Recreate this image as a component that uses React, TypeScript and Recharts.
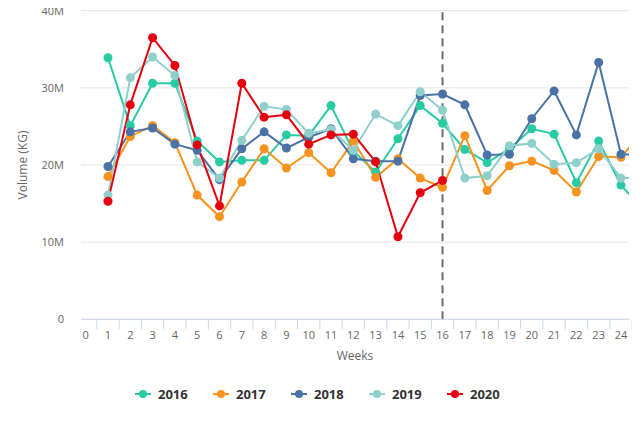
import React from "react";
import {
  LineChart,
  Line,
  XAxis,
  YAxis,
  CartesianGrid,
  ReferenceLine,
  Legend,
} from "recharts";

// weeks shown on the axis; week 25 is only partly visible at the right edge
const weeks = [0, 1, 2, 3, 4, 5, 6, 7, 8, 9, 10, 11, 12, 13, 14, 15, 16, 17, 18, 19, 20, 21, 22, 23, 24];
const dataWeeks = [1, 2, 3, 4, 5, 6, 7, 8, 9, 10, 11, 12, 13, 14, 15, 16, 17, 18, 19, 20, 21, 22, 23, 24, 25];

// volumes in millions of kg
const vol2016 = [33.9, 25.1, 30.6, 30.6, 23.1, 20.4, 20.6, 20.6, 23.9, 23.8, 27.7, 21.8, 19.1, 23.4, 27.7, 25.4, 22.0, 20.3, 22.1, 24.7, 24.0, 17.7, 23.1, 17.4, 14.3];
const vol2017 = [18.5, 23.7, 25.1, 22.9, 16.1, 13.3, 17.8, 22.1, 19.6, 21.6, 19.0, 23.1, 18.4, 20.8, 18.3, 17.1, 23.8, 16.7, 19.9, 20.5, 19.3, 16.5, 21.1, 21.0, 24.4];
const vol2018 = [19.8, 24.3, 24.8, 22.7, 21.9, 18.1, 22.1, 24.3, 22.2, 23.6, 24.7, 20.8, 20.5, 20.5, 29.0, 29.2, 27.8, 21.3, 21.4, 26.0, 29.6, 23.9, 33.3, 21.4, 21.3];
const vol2019 = [16.1, 31.3, 34.0, 31.6, 20.4, 18.3, 23.2, 27.6, 27.2, 24.1, 24.6, 21.9, 26.6, 25.1, 29.5, 27.1, 18.3, 18.6, 22.5, 22.8, 20.1, 20.3, 22.1, 18.3, 18.3];
const vol2020 = [15.3, 27.8, 36.5, 32.9, 22.6, 14.7, 30.6, 26.2, 26.5, 22.7, 23.9, 24.0, 20.4, 10.7, 16.4, 18.0];

const yTicks = [0, 10, 20, 30, 40];
const currentWeek = 16;

const series = [
  { key: "y2016", name: "2016", color: "#28cba4", values: vol2016 },
  { key: "y2017", name: "2017", color: "#f8931f", values: vol2017 },
  { key: "y2018", name: "2018", color: "#4a72a6", values: vol2018 },
  { key: "y2019", name: "2019", color: "#8fd0cc", values: vol2019 },
  { key: "y2020", name: "2020", color: "#e6000f", values: vol2020 },
];

const data = dataWeeks.map((w, i) => {
  const row: Record<string, number | undefined> = { week: w };
  series.forEach((s) => {
    row[s.key] = s.values[i];
  });
  return row;
});

const X_MIN = -0.21;
const X_MAX = 24.36;
const PLOT_W = 548;
const HALF_BAND = PLOT_W / (X_MAX - X_MIN) / 2;

const FONT = "'Open Sans', 'DejaVu Sans', sans-serif";

function WeekTick(props: any) {
  const { x, y, payload } = props;
  return (
    <g>
      <line x1={x + HALF_BAND} x2={x + HALF_BAND} y1={y} y2={y + 10} stroke="#ccd6eb" />
      <text x={x} y={y + 20} textAnchor="middle" fill="#666" fontSize={11} fontFamily={FONT}>
        {payload.value}
      </text>
    </g>
  );
}

function LegendBox() {
  return (
    <div style={{ display: "flex", paddingLeft: 127, fontFamily: FONT }}>
      {series.map((s) => (
        <div key={s.key} style={{ width: 78, display: "flex", alignItems: "center", height: 20 }}>
          <svg width={16} height={10} style={{ marginRight: 7 }}>
            <line x1={0} x2={16} y1={5} y2={5} stroke={s.color} strokeWidth={2} />
            <circle cx={8} cy={5} r={4} fill={s.color} />
          </svg>
          <span style={{ fontSize: 13, fontWeight: "bold", color: "#333" }}>{s.name}</span>
        </div>
      ))}
    </div>
  );
}

export default function App() {
  return (
    <div style={{ width: 632, height: 425, marginTop: -6, fontFamily: FONT }}>
      <LineChart
        width={632}
        height={425}
        data={data}
        margin={{ top: 8.7, right: 11, bottom: 66.7, left: 13 }}
      >
        <CartesianGrid vertical={false} stroke="#e6e6e6" />
        <XAxis
          dataKey="week"
          type="number"
          domain={[X_MIN, X_MAX]}
          allowDataOverflow
          ticks={weeks}
          interval={0}
          height={41}
          tickLine={false}
          tickSize={0}
          tickMargin={0}
          axisLine={{ stroke: "#ccd6eb" }}
          tick={<WeekTick />}
          label={{ value: "Weeks", position: "insideBottom", offset: 0, fill: "#666", fontSize: 12 }}
        />
        <YAxis
          width={60}
          domain={[0, 40]}
          ticks={yTicks}
          axisLine={false}
          tickLine={false}
          tickSize={0}
          tickMargin={17}
          tick={{ fill: "#666", fontSize: 11 }}
          tickFormatter={(v: number) => (v === 0 ? "0" : `${v}M`)}
          label={{
            value: "Volume (KG)",
            angle: -90,
            position: "insideLeft",
            offset: 2,
            fill: "#666",
            fontSize: 12,
            style: { textAnchor: "middle" },
          }}
        />
        <ReferenceLine x={currentWeek} stroke="#6b6b6b" strokeWidth={2} strokeDasharray="8 5" />
        {series.map((s) => (
          <Line
            key={s.key}
            dataKey={s.key}
            name={s.name}
            stroke={s.color}
            strokeWidth={2}
            dot={{ r: 4.5, fill: s.color, stroke: s.color, strokeWidth: 0 }}
            activeDot={false}
            isAnimationActive={false}
          />
        ))}
        <Legend
          layout="horizontal"
          verticalAlign="middle"
          align="center"
          wrapperStyle={{ top: 382, left: 0, width: 632 }}
          content={() => <LegendBox />}
        />
      </LineChart>
    </div>
  );
}
